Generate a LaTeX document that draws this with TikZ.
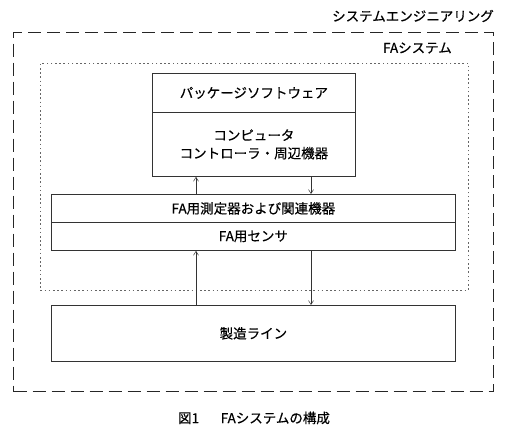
\documentclass[tikz,border=0pt]{standalone}
\usepackage{fontspec}
\newfontfamily\jp[FakeBold=0.4]{Noto Sans CJK JP}
\usetikzlibrary{arrows.meta}
\begin{document}
\begin{tikzpicture}[x=1pt,y=-1pt,
  txt/.style={font=\jp\fontsize{13.5}{18}\selectfont, inner sep=0pt},
  box/.style={txt, draw=black!80, line width=0.8pt, anchor=north west, align=center},
  frameouter/.style={draw=black!85, line width=1.4pt, dash pattern=on 13pt off 6pt, anchor=north west, inner sep=0pt},
  frameinner/.style={draw=black!60, line width=0.6pt, dash pattern=on 1.6pt off 2.6pt, anchor=north west, inner sep=0pt},
  arr/.style={draw=black!80, line width=0.5pt, -{Straight Barb[length=4pt,width=5pt]}}]
\useasboundingbox (0,0) rectangle (509,438);
% frames
\node[frameouter, minimum width=480pt, minimum height=359pt] (se) at (13,32) {};
\node[frameinner, minimum width=428pt, minimum height=227pt] (fa) at (40,63) {};
\node[txt, anchor=east] (selabel) at (494,16) {システムエンジニアリング};
\node[txt, anchor=east] (falabel) at (452,48) {FAシステム};
% boxes
\node[box, minimum width=203pt, minimum height=39pt] (pkg) at (152,73) {パッケージソフトウェア};
\node[box, minimum width=203pt, minimum height=64pt] (comp) at (152,112) {コンピュータ\\コントローラ・周辺機器};
\node[box, minimum width=404pt, minimum height=28pt] (meas) at (51,194) {FA用測定器および関連機器};
\node[box, minimum width=404pt, minimum height=28pt] (sens) at (51,222) {FA用センサ};
\node[box, minimum width=404pt, minimum height=56pt] (mfg) at (51,305) {製造ライン};
% arrows
\coordinate (ax1) at (196,0);
\coordinate (ax2) at (311,0);
\draw[arr] (meas.north -| ax1) -- (comp.south -| ax1);
\draw[arr] (comp.south -| ax2) -- (meas.north -| ax2);
\draw[arr] (mfg.north -| ax1) -- (sens.south -| ax1);
\draw[arr] (sens.south -| ax2) -- (mfg.north -| ax2);
% caption
\node[txt] (cap) at (254,418) {図1\hspace{1.6em}FAシステムの構成};
\end{tikzpicture}
\end{document}
